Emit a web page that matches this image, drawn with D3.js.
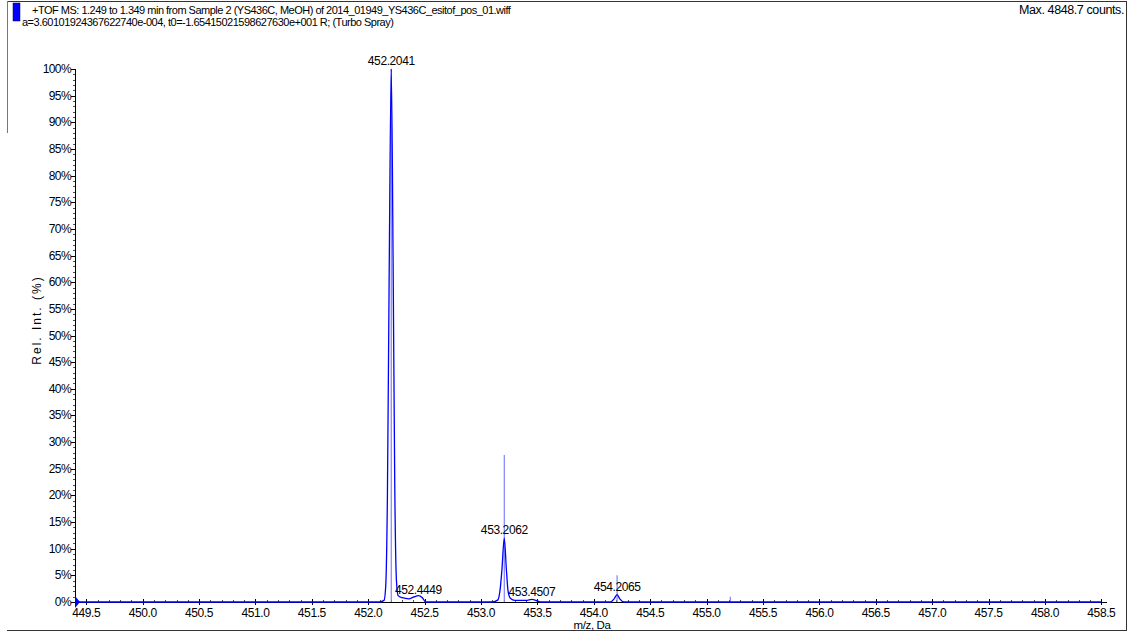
<!DOCTYPE html>
<html>
<head>
<meta charset="utf-8">
<script src="https://cdn.jsdelivr.net/npm/d3@7"></script>
<style>
  body { margin: 0; background: #fff; }
  svg text { font-family: "Liberation Sans", Arial, sans-serif; fill: #000; }
</style>
</head>
<body>
<div id="chart"></div>
<script>
// profile trace (m/z, Rel. Int. %)
const profileMz = [449.40, 452.10, 452.14, 452.155, 452.17, 452.185, 452.204, 452.22, 452.235, 452.25, 452.265, 452.30, 452.36, 452.40, 452.445, 452.48, 452.51,
  453.10, 453.15, 453.17, 453.185, 453.206, 453.225, 453.24, 453.26, 453.30, 453.40, 453.45, 453.50, 453.53,
  454.15, 454.18, 454.2065, 454.23, 454.27, 458.50];
const profileInt = [0, 0, 0.3, 3, 20, 60, 100, 65, 22, 4, 1.2, 0.8, 0.6, 0.9, 1.2, 0.8, 0,
  0, 0.4, 2.5, 6, 12, 6, 2, 0.7, 0.3, 0.3, 0.5, 0.2, 0,
  0, 0.6, 1.4, 0.6, 0, 0];

// centroid sticks
const stickMz = [452.2041, 453.2062, 454.2065, 455.21];
const stickInt = [100, 27.6, 5.0, 1.0];

// peak labels
const labelText = ["452.2041", "452.4449", "453.2062", "453.4507", "454.2065"];
const labelMz = [452.2041, 452.4449, 453.2062, 453.4507, 454.2065];
const labelInt = [100, 0.8, 12, 0.4, 1.4];

const xMajor = d3.range(0, 19).map(i => 449.5 + i * 0.5);
const xMinor = d3.range(0, 92).map(i => 449.4 + i * 0.1);
const yMajor = d3.range(0, 21).map(i => i * 5);
const yMinor = d3.range(0, 101);

const titleLines = [
  "+TOF MS: 1.249 to 1.349 min from Sample 2 (YS436C, MeOH) of 2014_01949_YS436C_esitof_pos_01.wiff",
  "a=3.60101924367622740e-004, t0=-1.65415021598627630e+001 R; (Turbo Spray)"
];

const width = 1130, height = 633;

const svg = d3.select("#chart").append("svg")
  .attr("width", width)
  .attr("height", height);

const x = d3.scaleLinear().domain([449.40, 458.55]).range([75, 1107]);
const y = d3.scaleLinear().domain([0, 100]).range([602, 69]);

// frame
svg.append("line").attr("x1", 7).attr("x2", 1126).attr("y1", 1.5).attr("y2", 1.5).attr("stroke", "#333");
svg.append("line").attr("x1", 1126.5).attr("x2", 1126.5).attr("y1", 1).attr("y2", 631).attr("stroke", "#333");
svg.append("line").attr("x1", 7).attr("x2", 1126).attr("y1", 630.5).attr("y2", 630.5).attr("stroke", "#333");
svg.append("line").attr("x1", 7.5).attr("x2", 7.5).attr("y1", 1).attr("y2", 133).attr("stroke", "#777");

// legend swatch + header
svg.append("rect").attr("x", 13).attr("y", 3).attr("width", 7).attr("height", 18)
  .attr("fill", "#0000ff").attr("stroke", "#000066").attr("stroke-width", 0.5);

svg.selectAll("text.title").data(titleLines).enter().append("text")
  .attr("class", "title")
  .attr("x", (d, i) => i === 0 ? 32 : 22)
  .attr("y", (d, i) => 14 + i * 12)
  .attr("font-size", 11)
  .attr("letter-spacing", -0.5)
  .text(d => d);

svg.append("text")
  .attr("x", 1124).attr("y", 14)
  .attr("text-anchor", "end")
  .attr("font-size", 12.5)
  .attr("letter-spacing", -0.4)
  .text("Max. 4848.7 counts.");

// y axis
const yAxis = svg.append("g");
yAxis.append("line").attr("x1", 75.5).attr("x2", 75.5).attr("y1", y(100)).attr("y2", y(0)).attr("stroke", "#000");
yAxis.selectAll("line.minor").data(yMinor).enter().append("line")
  .attr("x1", 73).attr("x2", 75.5)
  .attr("y1", d => Math.round(y(d)) + 0.5).attr("y2", d => Math.round(y(d)) + 0.5)
  .attr("stroke", "#000").attr("stroke-width", 0.7);
yAxis.selectAll("line.major").data(yMajor).enter().append("line")
  .attr("x1", 71).attr("x2", 75.5)
  .attr("y1", d => Math.round(y(d)) + 0.5).attr("y2", d => Math.round(y(d)) + 0.5)
  .attr("stroke", "#000");
yAxis.selectAll("text").data(yMajor).enter().append("text")
  .attr("x", 71).attr("y", d => y(d) + 4)
  .attr("text-anchor", "end")
  .attr("font-size", 12)
  .attr("letter-spacing", -0.6)
  .text(d => d + "%");

svg.append("text")
  .attr("transform", "translate(41,320) rotate(-90)")
  .attr("text-anchor", "middle")
  .attr("font-size", 12)
  .attr("letter-spacing", 2)
  .text("Rel. Int. (%)");

// x axis
const xAxis = svg.append("g");
xAxis.append("line").attr("x1", 75).attr("x2", 1107).attr("y1", 602.5).attr("y2", 602.5).attr("stroke", "#000");
xAxis.selectAll("line.minor").data(xMinor).enter().append("line")
  .attr("x1", d => Math.round(x(d)) + 0.5).attr("x2", d => Math.round(x(d)) + 0.5)
  .attr("y1", 600).attr("y2", 602.5)
  .attr("stroke", "#000").attr("stroke-width", 0.7);
xAxis.selectAll("line.major").data(xMajor).enter().append("line")
  .attr("x1", d => Math.round(x(d)) + 0.5).attr("x2", d => Math.round(x(d)) + 0.5)
  .attr("y1", 599).attr("y2", 605)
  .attr("stroke", "#000");
xAxis.selectAll("text").data(xMajor).enter().append("text")
  .attr("x", d => x(d)).attr("y", 617)
  .attr("text-anchor", "middle")
  .attr("font-size", 12)
  .attr("letter-spacing", -0.4)
  .text(d => d.toFixed(1));

svg.append("text")
  .attr("x", 592).attr("y", 629)
  .attr("text-anchor", "middle")
  .attr("font-size", 11.5)
  .attr("letter-spacing", -0.4)
  .text("m/z, Da");

// centroid sticks
svg.selectAll("line.stick").data(stickMz).enter().append("line")
  .attr("class", "stick")
  .attr("x1", d => x(d)).attr("x2", d => x(d))
  .attr("y1", y(0)).attr("y2", (d, i) => y(stickInt[i]))
  .attr("stroke", "#8080ff").attr("stroke-width", 1.2);

// profile
const pts = profileMz.map((m, i) => [m, profileInt[i]]);
svg.append("path")
  .datum(pts)
  .attr("fill", "none")
  .attr("stroke", "#0000ff")
  .attr("stroke-width", 1.3)
  .attr("d", d3.line().x(d => x(d[0])).y(d => y(d[1])).curve(d3.curveMonotoneX));

// start marker
svg.append("path")
  .attr("d", `M75,${y(0) - 6}L80,${y(0)}L75,${y(0) + 6}Z`)
  .attr("fill", "#0000ff");

// peak labels
svg.selectAll("text.peak").data(labelText).enter().append("text")
  .attr("class", "peak")
  .attr("x", (d, i) => x(labelMz[i]))
  .attr("y", (d, i) => y(labelInt[i]) - 4)
  .attr("text-anchor", "middle")
  .attr("font-size", 12)
  .attr("letter-spacing", -0.4)
  .text(d => d);
</script>
</body>
</html>
